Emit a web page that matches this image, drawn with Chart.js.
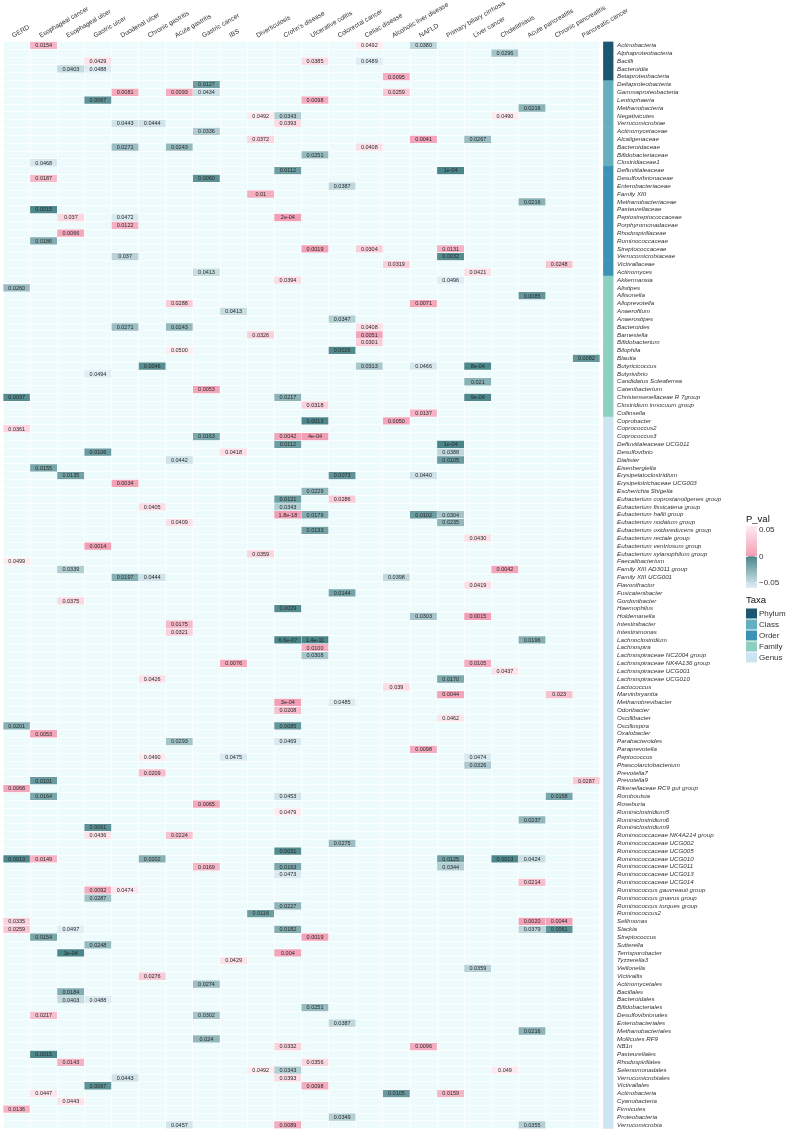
<!DOCTYPE html>
<html>
<head>
<meta charset="utf-8">
<script src="https://cdn.jsdelivr.net/npm/chart.js@4.4.1/dist/chart.umd.min.js"></script>
<style>
  html, body { margin: 0; padding: 0; background: #fff; }
  #wrap { width: 797px; height: 1136px; position: relative; }
</style>
</head>
<body>
<div id="wrap"><canvas id="heat"></canvas></div>
<script>
const diseases = ['GERD', 'Esophageal cancer', 'Esophageal ulcer', 'Gastric ulcer', 'Duodenal ulcer',
  'Chronic gastritis', 'Acute gastritis', 'Gastric cancer', 'IBS', 'Diverticulosis', "Crohn's disease",
  'Ulcerative colitis', 'Colorectal cancer', 'Celiac disease', 'Alcoholic liver disease', 'NAFLD',
  'Primary biliary cirrhosis', 'Liver cancer', 'Cholelithiasis', 'Acute pancreatitis',
  'Chronic pancreatitis', 'Pancreatic cancer'];

const taxa = ['Actinobacteria', 'Alphaproteobacteria', 'Bacilli', 'Bacteroidia', 'Betaproteobacteria',
  'Deltaproteobacteria', 'Gammaproteobacteria', 'Lentisphaeria', 'Methanobacteria', 'Negativicutes',
  'Verrucomicrobiae', 'Actinomycetaceae', 'Alcaligenaceae', 'Bacteroidaceae', 'Bifidobacteriaceae',
  'Clostridiaceae1', 'Defluviitaleaceae', 'Desulfovibrionaceae', 'Enterobacteriaceae', 'Family XIII',
  'Methanobacteriaceae', 'Pasteurellaceae', 'Peptostreptococcaceae', 'Porphyromonadaceae',
  'Rhodospirillaceae', 'Ruminococcaceae', 'Streptococcaceae', 'Verrucomicrobiaceae', 'Victivallaceae',
  'Actinomyces', 'Akkermansia', 'Alistipes', 'Allisonella', 'Alloprevotella', 'Anaerofilum',
  'Anaerostipes', 'Bacteroides', 'Barnesiella', 'Bifidobacterium', 'Bilophila', 'Blautia',
  'Butyricicoccus', 'Butyrivibrio', 'Candidatus Soleaferrea', 'Catenibacterium',
  'Christensenellaceae R 7group', 'Clostridium innocuum group', 'Collinsella', 'Coprobacter',
  'Coprococcus2', 'Coprococcus3', 'Defluviitaleaceae UCG011', 'Desulfovibrio', 'Dialister',
  'Eisenbergiella', 'Erysipelatoclostridium', 'Erysipelotrichaceae UCG003', 'Escherichia Shigella',
  'Eubacterium coprostanoligenes group', 'Eubacterium fissicatena group', 'Eubacterium hallii group',
  'Eubacterium nodatum group', 'Eubacterium oxidoreducens group', 'Eubacterium rectale group',
  'Eubacterium ventriosum group', 'Eubacterium xylanophilum group', 'Faecalibacterium',
  'Family XIII AD3011 group', 'Family XIII UCG001', 'Flavonifractor', 'Fusicatenibacter',
  'Gordonibacter', 'Haemophilus', 'Holdemanella', 'Intestinibacter', 'Intestinimonas',
  'Lachnoclostridium', 'Lachnospira', 'Lachnospiraceae NC2004 group', 'Lachnospiraceae NK4A136 group',
  'Lachnospiraceae UCG001', 'Lachnospiraceae UCG010', 'Lactococcus', 'Marvinbryantia',
  'Methanobrevibacter', 'Odoribacter', 'Oscillibacter', 'Oscillospira', 'Oxalobacter',
  'Parabacteroides', 'Paraprevotella', 'Peptococcus', 'Phascolarctobacterium', 'Prevotella7',
  'Prevotella9', 'Rikenellaceae RC9 gut group', 'Romboutsia', 'Roseburia', 'Ruminiclostridium5',
  'Ruminiclostridium6', 'Ruminiclostridium9', 'Ruminococcaceae NK4A214 group',
  'Ruminococcaceae UCG002', 'Ruminococcaceae UCG005', 'Ruminococcaceae UCG010',
  'Ruminococcaceae UCG011', 'Ruminococcaceae UCG013', 'Ruminococcaceae UCG014',
  'Ruminococcus gauvreauii group', 'Ruminococcus gnavus group', 'Ruminococcus torques group',
  'Ruminococcus2', 'Sellimonas', 'Slackia', 'Streptococcus', 'Sutterella', 'Terrisporobacter',
  'Tyzzerella3', 'Veillonella', 'Victivallis', 'Actinomycetales', 'Bacillales', 'Bacteroidales',
  'Bifidobacteriales', 'Desulfovibrionales', 'Enterobacteriales', 'Methanobacteriales',
  'Mollicutes RF9', 'NB1n', 'Pasteurellales', 'Rhodospirillales', 'Selenomonadales',
  'Verrucomicrobiales', 'Victivallales', 'Actinobacteria', 'Cyanobacteria', 'Firmicutes',
  'Proteobacteria', 'Verrucomicrobia'];

// taxa level of the rows, as consecutive runs (Phylum, Class, Order, Family, Genus)
const levelNames = ['Phylum', 'Class', 'Order', 'Family', 'Genus'];
const levelRuns = [5, 11, 14, 18, 91];

// per taxon: [disease index, p value]; '+' = positive (pink), '-' = negative (teal)
const cellsByRow = [
  [[1, '+0.0154'], [13, '+0.0492'], [15, '-0.0380']],
  [[18, '-0.0296']],
  [[3, '+0.0429'], [11, '+0.0385'], [13, '-0.0489']],
  [[2, '-0.0403'], [3, '-0.0488']],
  [[14, '+0.0095']],
  [[7, '-0.0127']],
  [[4, '+0.0081'], [6, '+0.0093'], [7, '-0.0434'], [14, '+0.0259']],
  [[3, '-0.0067'], [11, '+0.0098']],
  [[19, '-0.0216']],
  [[9, '+0.0492'], [10, '-0.0343'], [18, '+0.0490']],
  [[4, '-0.0443'], [5, '-0.0444'], [10, '+0.0393']],
  [[7, '-0.0336']],
  [[9, '+0.0372'], [15, '+0.0041'], [17, '-0.0267']],
  [[4, '-0.0271'], [6, '-0.0243'], [13, '+0.0408']],
  [[11, '-0.0251']],
  [[1, '-0.0468']],
  [[10, '-0.0112'], [16, '-1e-04']],
  [[1, '+0.0187'], [7, '-0.0060']],
  [[12, '-0.0387']],
  [[9, '+0.01']],
  [[19, '-0.0216']],
  [[1, '-0.0015']],
  [[2, '+0.037'], [4, '-0.0472'], [10, '+2e-04']],
  [[4, '+0.0122']],
  [[2, '+0.0066']],
  [[1, '-0.0186']],
  [[11, '+0.0019'], [13, '+0.0304'], [16, '+0.0131']],
  [[4, '-0.037'], [16, '-0.0032']],
  [[14, '+0.0319'], [20, '+0.0248']],
  [[7, '-0.0413'], [17, '+0.0421']],
  [[10, '+0.0394'], [16, '-0.0496']],
  [[0, '-0.0260']],
  [[19, '-0.0085']],
  [[6, '+0.0288'], [15, '+0.0071']],
  [[8, '-0.0413']],
  [[12, '-0.0347']],
  [[4, '-0.0271'], [6, '-0.0243'], [13, '+0.0408']],
  [[9, '+0.0326'], [13, '+0.0051']],
  [[13, '+0.0301']],
  [[6, '+0.0500'], [12, '-0.0026']],
  [[21, '-0.0082']],
  [[5, '-0.0046'], [13, '-0.0313'], [15, '-0.0466'], [17, '-8e-04']],
  [[3, '-0.0494']],
  [[17, '-0.021']],
  [[7, '+0.0053']],
  [[0, '-0.0037'], [10, '-0.0217'], [17, '-9e-04']],
  [[11, '+0.0318']],
  [[15, '+0.0137']],
  [[11, '-0.0013'], [14, '+0.0050']],
  [[0, '+0.0361']],
  [[7, '-0.0163'], [10, '+0.0042'], [11, '+4e-04']],
  [[10, '-0.0112'], [16, '-1e-04']],
  [[3, '-0.0106'], [8, '+0.0418'], [16, '-0.0388']],
  [[6, '-0.0442'], [16, '-0.0105']],
  [[1, '-0.0155']],
  [[2, '-0.0135'], [12, '-0.0073'], [15, '-0.0440']],
  [[4, '+0.0034']],
  [[11, '-0.0229']],
  [[10, '-0.0121'], [12, '+0.0286']],
  [[5, '+0.0405'], [10, '-0.0343']],
  [[10, '+1.8e-18'], [11, '-0.0179'], [15, '-0.0102'], [16, '-0.0304']],
  [[6, '+0.0409'], [16, '-0.0235']],
  [[11, '-0.0133']],
  [[17, '+0.0430']],
  [[3, '+0.0014']],
  [[9, '+0.0359']],
  [[0, '+0.0499']],
  [[2, '-0.0339'], [18, '+0.0042']],
  [[4, '-0.0197'], [5, '-0.0444'], [14, '-0.0398']],
  [[17, '+0.0419']],
  [[12, '-0.0144']],
  [[2, '+0.0375']],
  [[10, '-0.0029']],
  [[15, '-0.0303'], [17, '+0.0015']],
  [[6, '+0.0175']],
  [[6, '+0.0321']],
  [[10, '-6.6e-07'], [11, '-1.4e-11'], [19, '-0.0196']],
  [[11, '+0.0100']],
  [[11, '-0.0308']],
  [[8, '+0.0076'], [17, '+0.0105']],
  [[18, '+0.0437']],
  [[5, '+0.0426'], [16, '-0.0170']],
  [[14, '+0.039']],
  [[16, '+0.0044'], [20, '+0.023']],
  [[10, '+3e-04'], [12, '-0.0485']],
  [[10, '+0.0208']],
  [[16, '+0.0462']],
  [[0, '-0.0201'], [10, '-0.0085']],
  [[1, '+0.0053']],
  [[6, '-0.0293'], [10, '-0.0469']],
  [[15, '+0.0098']],
  [[5, '+0.0490'], [8, '-0.0475'], [17, '-0.0474']],
  [[17, '-0.0326']],
  [[5, '+0.0209']],
  [[1, '-0.0101'], [21, '+0.0287']],
  [[0, '+0.0068']],
  [[1, '-0.0164'], [10, '-0.0453'], [20, '-0.0158']],
  [[7, '+0.0065']],
  [[10, '+0.0479']],
  [[19, '-0.0237']],
  [[3, '-0.0061']],
  [[3, '+0.0436'], [6, '+0.0224']],
  [[12, '-0.0275']],
  [[10, '-0.0031']],
  [[0, '-0.0013'], [1, '+0.0149'], [5, '-0.0202'], [16, '-0.0125'], [18, '-0.0013'], [19, '-0.0424']],
  [[7, '+0.0169'], [10, '-0.0163'], [16, '-0.0344']],
  [[10, '-0.0473']],
  [[19, '+0.0214']],
  [[3, '+0.0092'], [4, '+0.0474']],
  [[3, '-0.0287']],
  [[10, '-0.0227']],
  [[9, '-0.0116']],
  [[0, '+0.0335'], [19, '+0.0020'], [20, '+0.0044']],
  [[0, '+0.0259'], [2, '-0.0497'], [10, '-0.0182'], [19, '-0.0379'], [20, '-0.0061']],
  [[1, '-0.0154'], [11, '+0.0019']],
  [[3, '-0.0248']],
  [[2, '-3e-04'], [10, '+0.004']],
  [[8, '+0.0429']],
  [[17, '-0.0359']],
  [[5, '+0.0276']],
  [[7, '-0.0274']],
  [[2, '-0.0184']],
  [[2, '-0.0403'], [3, '-0.0488']],
  [[11, '-0.0251']],
  [[1, '+0.0217'], [7, '-0.0302']],
  [[12, '-0.0387']],
  [[19, '-0.0216']],
  [[7, '-0.024']],
  [[10, '+0.0332'], [15, '+0.0096']],
  [[1, '-0.0015']],
  [[2, '+0.0143'], [11, '+0.0356']],
  [[9, '+0.0492'], [10, '-0.0343'], [18, '+0.049']],
  [[4, '-0.0443'], [10, '+0.0393']],
  [[3, '-0.0067'], [11, '+0.0098']],
  [[1, '+0.0447'], [14, '-0.0105'], [16, '+0.0159']],
  [[2, '+0.0443']],
  [[0, '+0.0136']],
  [[12, '-0.0349']],
  [[6, '-0.0457'], [10, '+0.0089'], [19, '-0.0355']]
];

const pvalTicks = [0.05, 0, -0.05];

// ---- styling ----
const FONT = "'Liberation Sans', Arial, Helvetica, sans-serif";
const levelColors = ['#1d5671', '#66afbf', '#3b92b6', '#8dcfc1', '#cde5f0'];
const bgCell = '#eefbfc';
const annoFrom = 22.13, annoTo = 22.5;   // taxa strip, in column units

function mix(a, b, t) {
  return 'rgb(' + a.map((v, i) => Math.round(v + (b[i] - v) * t)).join(',') + ')';
}
function cellColor(v) {
  const t = Math.min(Math.abs(v) / 0.05, 1);
  return v >= 0 ? mix([242, 158, 180], [253, 236, 241], t)
                : mix([74, 133, 137], [224, 239, 245], t);
}

const rowLevel = [];
levelRuns.forEach((n, k) => { for (let i = 0; i < n; i++) rowLevel.push(k); });

const heatPoints = [];
cellsByRow.forEach((cells, r) => {
  cells.forEach(([c, s]) => {
    heatPoints.push({ y: r, x: [c, c + 1], txt: s.replace(/^[+-]/, ''), val: parseFloat(s) });
  });
});

// light cyan under the heatmap, painted first so the white grid sits on it
const backgroundPlugin = {
  id: 'cellBackground',
  beforeDraw(chart) {
    const { ctx, chartArea, scales } = chart;
    const x0 = scales.x.getPixelForValue(0), x1 = scales.x.getPixelForValue(diseases.length);
    ctx.save();
    ctx.fillStyle = bgCell;
    ctx.fillRect(x0, chartArea.top, x1 - x0, chartArea.bottom - chartArea.top);
    ctx.restore();
  }
};

const labelPlugin = {
  id: 'cellLabels',
  afterDatasetsDraw(chart) {
    const { ctx } = chart;
    const meta = chart.getDatasetMeta(1);
    ctx.save();
    ctx.font = '5.5px ' + FONT;
    ctx.fillStyle = '#2a2a2a';
    ctx.textAlign = 'center';
    ctx.textBaseline = 'middle';
    meta.data.forEach((el, i) => {
      ctx.fillText(heatPoints[i].txt, (el.x + el.base) / 2, el.y + 0.3);
    });
    ctx.restore();
  }
};

const legendPlugin = {
  id: 'sideLegends',
  afterDraw(chart) {
    const { ctx } = chart;
    const lx = 746;
    ctx.save();
    ctx.fillStyle = '#111';
    ctx.textBaseline = 'alphabetic';
    ctx.textAlign = 'left';
    ctx.font = '9.5px ' + FONT;
    ctx.fillText('P_val', lx, 522);

    // colour bar
    const top = 526, bot = 588, w = 11;
    const yFor = v => 556.5 - v / 0.05 * 26.5;
    const g = ctx.createLinearGradient(0, top, 0, bot);
    const mid = (yFor(0) - top) / (bot - top);
    g.addColorStop(0, cellColor(0.05));
    g.addColorStop(mid - 0.001, cellColor(0.0001));
    g.addColorStop(mid + 0.001, cellColor(-0.0001));
    g.addColorStop(1, cellColor(-0.05));
    ctx.fillStyle = g;
    ctx.fillRect(lx, top, w, bot - top);
    ctx.strokeStyle = '#fff';
    ctx.lineWidth = 0.8;
    ctx.font = '8px ' + FONT;
    ctx.fillStyle = '#333';
    ctx.textBaseline = 'middle';
    pvalTicks.forEach(v => {
      const y = yFor(v);
      ctx.beginPath();
      ctx.moveTo(lx, y); ctx.lineTo(lx + 2, y);
      ctx.moveTo(lx + w - 2, y); ctx.lineTo(lx + w, y);
      ctx.stroke();
      ctx.fillText(v < 0 ? '\u2212' + Math.abs(v) : String(v), lx + w + 2, y);
    });

    // taxa legend
    ctx.textBaseline = 'alphabetic';
    ctx.font = '9.5px ' + FONT;
    ctx.fillStyle = '#111';
    ctx.fillText('Taxa', lx, 603);
    ctx.font = '8px ' + FONT;
    ctx.textBaseline = 'middle';
    levelNames.forEach((name, k) => {
      const cy = 613.5 + k * 11;
      ctx.fillStyle = levelColors[k];
      ctx.fillRect(lx, cy - 5, 11, 10);
      ctx.fillStyle = '#333';
      ctx.fillText(name, lx + 13, cy + 0.5);
    });
    ctx.restore();
  }
};

new Chart(document.getElementById('heat'), {
  type: 'bar',
  data: {
    datasets: [
      {
        label: 'Taxa',
        xAxisID: 'x', yAxisID: 'y',
        data: taxa.map((t, r) => ({ y: r, x: [annoFrom, annoTo] })),
        backgroundColor: rowLevel.map(k => levelColors[k]),
        borderWidth: 0,
        barPercentage: 1, categoryPercentage: 1, grouped: false
      },
      {
        label: 'P_val',
        xAxisID: 'x', yAxisID: 'y',
        data: heatPoints,
        backgroundColor: c => cellColor(c.raw ? c.raw.val : 0),
        borderColor: '#ffffff',
        borderWidth: 0.6,
        barPercentage: 1, categoryPercentage: 1, grouped: false
      }
    ]
  },
  options: {
    indexAxis: 'y',
    responsive: true,
    maintainAspectRatio: false,
    animation: false,
    events: [],
    layout: { padding: { left: 3, top: 0, right: 0, bottom: 1.5 } },
    scales: {
      y: {
        type: 'category',
        position: 'right',
        labels: taxa.map((t, i) => i),
        offset: true,
        grid: { offset: true, color: '#ffffff', lineWidth: 0.7, drawTicks: false },
        border: { display: false },
        ticks: {
          autoSkip: false,
          padding: 3.5,
          color: '#333',
          font: { family: FONT, size: 6.2, style: 'italic' },
          callback: (v, i) => taxa[i]
        },
        afterFit: s => { s.width = 183.5; }
      },
      x: {
        type: 'linear',
        position: 'bottom',
        min: 0, max: annoTo,
        grid: { color: '#ffffff', lineWidth: 0.7, drawTicks: false },
        border: { display: false },
        ticks: { display: false },
        afterBuildTicks: s => { s.ticks = diseases.map((d, i) => ({ value: i })).concat([{ value: diseases.length }]); },
        afterFit: s => { s.height = 0; s.paddingLeft = 0; s.paddingRight = 0; }
      },
      x2: {
        type: 'linear',
        position: 'top',
        min: 0, max: annoTo,
        grid: { display: false, drawTicks: false },
        border: { display: false },
        ticks: {
          autoSkip: false,
          minRotation: 30, maxRotation: 30,
          padding: 2,
          color: '#333',
          font: { family: FONT, size: 6.5 },
          callback: (v, i) => diseases[i]
        },
        afterBuildTicks: s => { s.ticks = diseases.map((d, i) => ({ value: i + 0.5 })); },
        afterFit: s => { s.height = 41.5; s.paddingLeft = 0; s.paddingRight = 0; }
      }
    },
    plugins: {
      legend: { display: false },
      tooltip: { enabled: false }
    }
  },
  plugins: [backgroundPlugin, labelPlugin, legendPlugin]
});
</script>
</body>
</html>
